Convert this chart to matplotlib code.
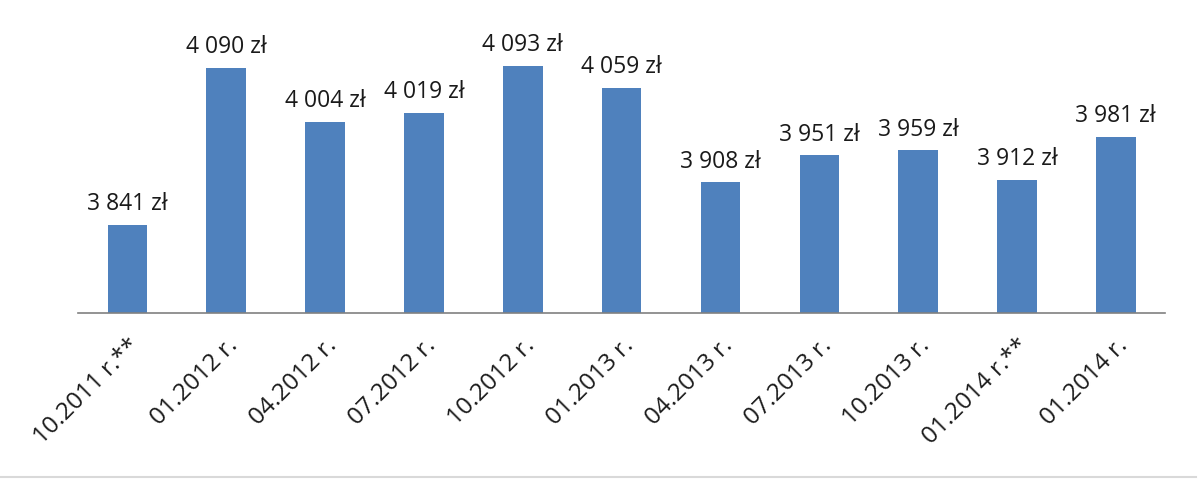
import matplotlib.pyplot as plt
from matplotlib.lines import Line2D

labels = ['10.2011 r.**', '01.2012 r.', '04.2012 r.', '07.2012 r.', '10.2012 r.',
          '01.2013 r.', '04.2013 r.', '07.2013 r.', '10.2013 r.', '01.2014 r.**', '01.2014 r.']
values = [3841, 4090, 4004, 4019, 4093, 4059, 3908, 3951, 3959, 3912, 3981]

plt.rcParams['font.family'] = ['Open Sans', 'DejaVu Sans']

fig = plt.figure(figsize=(12, 4.81), dpi=100)
ax = fig.add_axes([0.065, 0.347, 0.906, 0.653])

x = range(len(values))
ax.bar(x, [v - 3700 for v in values], bottom=3700, width=0.4, color='#4f81bd')
for i, v in zip(x, values):
    lab = f'{v:,} zł'.replace(',', ' ')
    ax.annotate(lab, (i, v), xytext=(0, 7), textcoords='offset points',
                ha='center', va='bottom', fontsize=16.5, color='#1a1a1a')

ax.set_xlim(-0.5, len(values) - 0.5)
ax.set_ylim(3700, 4200)
ax.set_xticks(list(x))
ax.set_xticklabels(labels, rotation=45, ha='right', rotation_mode='anchor',
                   fontsize=17.5, color='#1a1a1a')
ax.tick_params(axis='x', length=0, pad=14)
ax.set_yticks([])
for s in ['top', 'left', 'right']:
    ax.spines[s].set_visible(False)
ax.spines['bottom'].set_color('#808080')
ax.spines['bottom'].set_linewidth(1.2)

fig.add_artist(Line2D([0, 0.997], [0.006, 0.006], color='#d9d9d9', lw=1.5))

fig.savefig('out.png', dpi=100)
